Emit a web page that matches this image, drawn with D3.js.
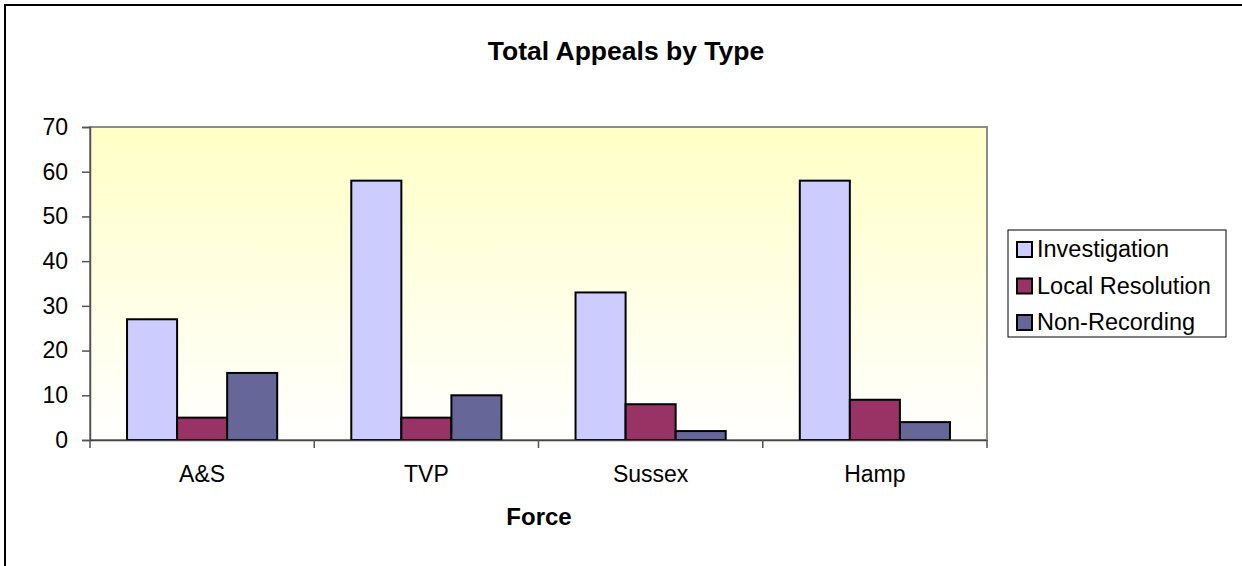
<!DOCTYPE html>
<html><head><meta charset="utf-8">
<script src="https://cdn.jsdelivr.net/npm/d3@7"></script>
<style>html,body{margin:0;padding:0;background:#fff;}svg{display:block;font-family:"Liberation Sans",Arial,sans-serif;}</style>
</head><body>
<script>
const categories = ["A&S", "TVP", "Sussex", "Hamp"];
const seriesNames = ["Investigation", "Local Resolution", "Non-Recording"];
const investigation = [27, 58, 33, 58];
const localResolution = [5, 5, 8, 9];
const nonRecording = [15, 10, 2, 4];
const yTicks = [0, 10, 20, 30, 40, 50, 60, 70];
const colors = ["#CCCCFF", "#993366", "#666699"];
const seriesValues = [investigation, localResolution, nonRecording];

const W = 1242, H = 566;
const svg = d3.select("body").append("svg").attr("width", W).attr("height", H);

// outer chart border
svg.append("rect").attr("x", 5).attr("y", 5).attr("width", 1400).attr("height", 800)
  .attr("fill", "#fff").attr("stroke", "#000").attr("stroke-width", 2);

const L = 90, R = 987, T = 127, B = 440;
const x0 = d3.scaleBand().domain(categories).range([L, R]).paddingInner(0).paddingOuter(0);
const x1 = d3.scaleBand().domain(seriesNames).range([0, x0.bandwidth()]).paddingOuter(0.74).paddingInner(0);
const y = d3.scaleLinear().domain([0, 70]).range([B, T]);

const defs = svg.append("defs");
const g = defs.append("linearGradient").attr("id", "bg").attr("x1", 0).attr("y1", 0).attr("x2", 0).attr("y2", 1);
g.append("stop").attr("offset", "0%").attr("stop-color", "#FFFFC6");
g.append("stop").attr("offset", "100%").attr("stop-color", "#FFFFFF");

svg.append("rect").attr("x", L).attr("y", T).attr("width", R - L).attr("height", B - T)
  .attr("fill", "url(#bg)").attr("stroke", "#8c8c8c").attr("stroke-width", 2);

// bars
const data = [];
categories.forEach((c, i) => seriesNames.forEach((s, j) => data.push({c, s, j, v: seriesValues[j][i]})));
svg.append("g").selectAll("rect").data(data).join("rect")
  .attr("x", d => x0(d.c) + x1(d.s))
  .attr("width", x1.bandwidth())
  .attr("y", d => y(d.v))
  .attr("height", d => y(0) - y(d.v))
  .attr("fill", d => colors[d.j])
  .attr("stroke", "#000").attr("stroke-width", 2);

// y axis
const yAxis = svg.append("g").attr("transform", `translate(${L},0)`)
  .call(d3.axisLeft(y).tickValues(yTicks).tickSize(8).tickPadding(14));
yAxis.select(".domain").attr("stroke", "#555").attr("stroke-width", 1.5);
yAxis.selectAll(".tick line").attr("stroke", "#555").attr("stroke-width", 1.5);
yAxis.selectAll("text").attr("font-size", 23).attr("fill", "#000").attr("font-family", "Liberation Sans, Arial");

// x axis
const xAxis = svg.append("g").attr("transform", `translate(0,${B})`)
  .call(d3.axisBottom(x0).tickSize(0).tickPadding(26));
xAxis.select(".domain").attr("stroke", "#444").attr("stroke-width", 1.5);
xAxis.selectAll("text").attr("font-size", 23).attr("fill", "#000").attr("font-family", "Liberation Sans, Arial");
const bounds = categories.map(c => x0(c)).concat([R]);
svg.append("g").selectAll("line").data(bounds).join("line")
  .attr("x1", d => d).attr("x2", d => d).attr("y1", B).attr("y2", B + 8)
  .attr("stroke", "#555").attr("stroke-width", 1.5);

// title
svg.append("text").attr("x", 626).attr("y", 60).attr("text-anchor", "middle")
  .attr("font-size", 26.5).attr("font-weight", "bold").text("Total Appeals by Type");
// x title
svg.append("text").attr("x", 539).attr("y", 525).attr("text-anchor", "middle")
  .attr("font-size", 24).attr("font-weight", "bold").text("Force");

// legend
const lg = svg.append("g");
lg.append("rect").attr("x", 1008).attr("y", 230).attr("width", 218).attr("height", 107)
  .attr("fill", "#fff").attr("stroke", "#000").attr("stroke-width", 1);
const items = lg.selectAll("g.item").data(seriesNames).join("g").attr("class", "item")
  .attr("transform", (d, i) => `translate(1017,${249 + i * 36.5})`);
items.append("rect").attr("x", 0).attr("y", -7).attr("width", 15).attr("height", 15)
  .attr("fill", (d, i) => colors[i]).attr("stroke", "#000").attr("stroke-width", 2);
items.append("text").attr("x", 20).attr("y", 8).attr("font-size", 23.5).text(d => d);
</script>
</body></html>
